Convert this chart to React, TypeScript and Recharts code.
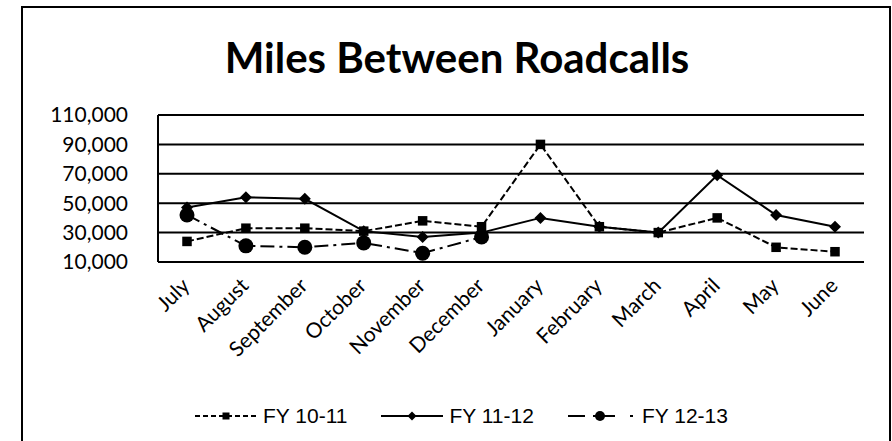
import React from 'react';
import { LineChart, Line, XAxis, YAxis, CartesianGrid } from 'recharts';

const months = [
  'July', 'August', 'September', 'October', 'November', 'December',
  'January', 'February', 'March', 'April', 'May', 'June',
];
const fy1011 = [24000, 33000, 33000, 31000, 38000, 34000, 90000, 34000, 30000, 40000, 20000, 17000];
const fy1112 = [47000, 54000, 53000, 31000, 27000, 30000, 40000, 34000, 30000, 69000, 42000, 34000];
const fy1213 = [42000, 21000, 20000, 23000, 16000, 27000, null, null, null, null, null, null];
const seriesNames = ['FY 10-11', 'FY 11-12', 'FY 12-13'];
const yTicks = [10000, 30000, 50000, 70000, 90000, 110000];

const data = months.map((m, i) => ({
  month: m,
  fy1011: fy1011[i],
  fy1112: fy1112[i],
  fy1213: fy1213[i],
}));

const SquareDot = (props: any) => {
  const { cx, cy, size = 9.5 } = props;
  if (cx == null || cy == null) return <g />;
  return <rect x={cx - size / 2} y={cy - size / 2} width={size} height={size} fill="#000" />;
};

const DiamondDot = (props: any) => {
  const { cx, cy, size = 6 } = props;
  if (cx == null || cy == null) return <g />;
  const pts = `${cx},${cy - size} ${cx + size},${cy} ${cx},${cy + size} ${cx - size},${cy}`;
  return <polygon points={pts} fill="#000" />;
};

const CircleDot = (props: any) => {
  const { cx, cy, size = 7.5 } = props;
  if (cx == null || cy == null) return <g />;
  return <circle cx={cx} cy={cy} r={size} fill="#000" />;
};

const MonthTick = (props: any) => {
  const { x, y, payload } = props;
  return (
    <g transform={`translate(${x + 4},${y + 17})`}>
      <text textAnchor="end" transform="rotate(-45)" fontFamily="Lato" fontSize={21} fill="#000">
        {payload.value}
      </text>
    </g>
  );
};

const legendItems = [
  { name: seriesNames[0], dash: '5 3', Dot: SquareDot, size: 7, w: 62, dotX: 31 },
  { name: seriesNames[1], dash: undefined, Dot: DiamondDot, size: 4.5, w: 62, dotX: 31 },
  { name: seriesNames[2], dash: '17 8 22 15 3 10', Dot: CircleDot, size: 5, w: 68, dotX: 32 },
];

const App = () => {
  return (
    <div style={{ position: 'absolute', left: 0, top: 0, width: 892, height: 441, background: '#fff', overflow: 'hidden' }}>
      <div
        style={{
          position: 'absolute', left: 21, top: 6, width: 866, height: 460,
          borderTop: '2px solid #000', borderLeft: '2px solid #000', borderRight: '2px solid #000',
        }}
      />
      <div
        style={{
          position: 'absolute', left: 0, width: 914, top: 32, lineHeight: '50px', textAlign: 'center',
          fontFamily: 'Lato', fontWeight: 700, fontSize: 42, color: '#000',
        }}
      >
        Miles Between Roadcalls
      </div>
      <LineChart
        width={892}
        height={441}
        data={data}
        margin={{ top: 115, right: 28, left: 58, bottom: 79 }}
      >
        <CartesianGrid vertical={false} stroke="#000" strokeWidth={2} />
        <XAxis
          dataKey="month"
          interval={0}
          height={100}
          padding={{ left: 29, right: 29 }}
          tick={<MonthTick />}
          tickLine={false}
          axisLine={{ stroke: '#000', strokeWidth: 2 }}
        />
        <YAxis
          width={100}
          domain={[10000, 110000]}
          ticks={yTicks}
          interval={0}
          tickFormatter={(v: number) => v.toLocaleString('en-US')}
          tick={{ fill: '#000', fontFamily: 'Lato', fontSize: 21 }}
          tickLine={false}
          tickSize={0}
          tickMargin={30}
          axisLine={{ stroke: '#000', strokeWidth: 2 }}
        />
        <Line dataKey="fy1011" name={seriesNames[0]} stroke="#000" strokeWidth={2} strokeDasharray="7 3"
          dot={<SquareDot />} activeDot={false} isAnimationActive={false} />
        <Line dataKey="fy1112" name={seriesNames[1]} stroke="#000" strokeWidth={2}
          dot={<DiamondDot />} activeDot={false} isAnimationActive={false} />
        <Line dataKey="fy1213" name={seriesNames[2]} stroke="#000" strokeWidth={2} strokeDasharray="14 5 3 5"
          dot={<CircleDot />} activeDot={false} isAnimationActive={false} />
      </LineChart>
      <div
        style={{
          position: 'absolute', left: 195, top: 404, display: 'flex',
          gap: 34, fontFamily: 'Liberation Sans', fontSize: 21, color: '#000',
        }}
      >
        {legendItems.map((it) => (
          <div key={it.name} style={{ display: 'flex', alignItems: 'center', gap: 6 }}>
            <svg width={it.w} height={20}>
              <line x1={0} y1={10} x2={it.w} y2={10} stroke="#000" strokeWidth={2} strokeDasharray={it.dash} />
              <it.Dot cx={it.dotX} cy={10} size={it.size} />
            </svg>
            <span>{it.name}</span>
          </div>
        ))}
      </div>
    </div>
  );
};

export default App;
